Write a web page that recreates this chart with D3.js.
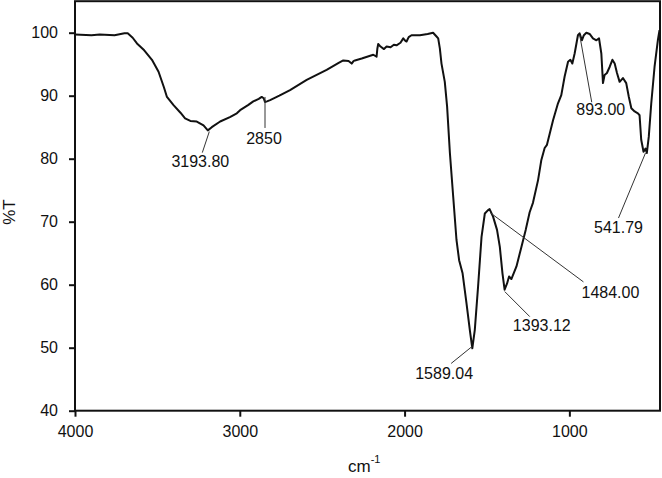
<!DOCTYPE html>
<html>
<head>
<meta charset="utf-8">
<script src="https://cdn.jsdelivr.net/npm/d3@7"></script>
<style>
  body { margin: 0; background: #fff; }
  svg { display: block; font-family: "Liberation Sans", Arial, sans-serif; }
</style>
</head>
<body>
<svg id="chart" width="662" height="478"></svg>
<script>

//// DATA

// Wavenumber (cm-1) from left to right
var wavenumber = [4000, 3900, 3850, 3760, 3700, 3680, 3650, 3624, 3580, 3533, 3493, 3460, 3442, 3402,
    3360, 3332, 3300, 3261, 3220, 3194, 3170, 3119, 3060, 3018, 2998, 2950, 2918, 2885, 2867, 2855,
    2847, 2835, 2816, 2760, 2695, 2594, 2473, 2400, 2372, 2340, 2321, 2310, 2301, 2260, 2190, 2170,
    2165, 2160, 2146, 2125, 2109, 2085, 2065, 2049, 2025, 2008, 1995, 1988, 1975, 1958, 1907, 1860,
    1827, 1806, 1796, 1786, 1776, 1756, 1742, 1725, 1705, 1685, 1669, 1648, 1624, 1604, 1589, 1574,
    1554, 1533, 1513, 1495, 1484, 1463, 1439, 1422, 1406, 1393, 1378, 1366, 1352, 1321, 1291, 1265,
    1241, 1221, 1190, 1170, 1150, 1136, 1119, 1099, 1069, 1049, 1029, 1008, 994, 982, 968, 948, 938,
    924, 912, 897, 877, 857, 836, 820, 806, 796, 786, 772, 755, 739, 725, 711, 695, 675, 655, 639,
    624, 604, 584, 574, 564, 550, 538, 530, 518, 503, 483, 463, 453];

// Transmittance (%T) for each wavenumber above
var transmittance = [99.7, 99.6, 99.7, 99.6, 99.9, 99.9, 99.2, 98.3, 97.2, 95.7, 93.8, 91.3, 89.8, 88.5,
    87.3, 86.4, 86.0, 85.9, 85.3, 84.5, 85.0, 85.9, 86.6, 87.2, 87.7, 88.5, 89.1, 89.5, 89.8, 89.6,
    89.0, 89.1, 89.3, 90.0, 90.9, 92.5, 94.1, 95.2, 95.6, 95.5, 95.1, 95.5, 95.6, 95.9, 96.5, 96.2,
    97.5, 98.2, 97.8, 97.4, 97.8, 97.7, 98.1, 98.0, 98.4, 99.1, 98.7, 98.6, 99.3, 99.6, 99.6, 99.8,
    100.0, 99.4, 99.1, 97.5, 95.1, 92.2, 88.3, 80.9, 74.0, 67.1, 63.9, 61.8, 57.0, 52.8, 49.9, 52.8,
    59.7, 67.6, 71.3, 71.8, 72.0, 70.8, 68.7, 66.0, 61.8, 59.2, 60.2, 61.3, 60.9, 62.9, 66.0, 68.7,
    71.5, 73.0, 76.6, 79.8, 81.7, 82.2, 84.0, 86.1, 88.8, 90.1, 93.0, 95.4, 95.7, 95.1, 96.7, 99.6, 99.9,
    98.8, 99.6, 100.0, 99.8, 99.1, 98.8, 99.1, 96.7, 92.0, 93.3, 93.6, 94.6, 95.7, 95.1, 93.6, 92.2, 92.8, 92.0, 89.8,
    88.0, 87.5, 87.2, 86.9, 83.0, 81.1, 81.6, 80.9, 83.5, 88.8, 94.6, 98.8, 100.4];

// Axis ticks
var xTicks = [4000, 3000, 2000, 1000];
var yTicks = [40, 50, 60, 70, 80, 90, 100];

// Peak labels and where their leader lines touch the curve
var peakLabels = ["3193.80", "2850", "893.00", "541.79", "1484.00", "1393.12", "1589.04"];
var peakWn = [3185, 2847, 937, 538, 1479, 1392, 1590];
var peakT = [84.3, 89.8, 99.6, 80.9, 71.4, 58.9, 50.2];


//// LAYOUT

var svg = d3.select("#chart");
var plotLeft = 75, plotRight = 660, plotTop = 1.2, plotBottom = 410.7;

// Pixel offsets of leader line end and label (centre, baseline) from the peak
var labelOffsets = [
    {lx: -7, ly: 21, tx: -9, ty: 35},
    {lx: 0, ly: 31, tx: -1, ty: 47},
    {lx: 12, ly: 67, tx: 21, ty: 80},
    {lx: -27, ly: 65, tx: -27, ty: 80},
    {lx: 93, ly: 69, tx: 120, ty: 85},
    {lx: 25, ly: 25, tx: 37, ty: 39},
    {lx: -21, ly: 17, tx: -28, ty: 33}
];

var x = d3.scaleLinear().domain([4000, 450]).range([plotLeft, plotRight]);
var y = d3.scaleLinear().domain([40, 105]).range([plotBottom, plotTop]);


//// AXES

var yAxis = svg.append("g")
    .attr("transform", "translate(" + plotLeft + ",0)")
    .call(d3.axisLeft(y).tickValues(yTicks).tickFormat(d3.format("d")).tickSize(6).tickPadding(11));

var xAxis = svg.append("g")
    .attr("transform", "translate(0," + plotBottom + ")")
    .call(d3.axisBottom(x).tickValues(xTicks).tickFormat(d3.format("d")).tickSize(6).tickPadding(9));

[xAxis, yAxis].forEach(function(g){
    g.select(".domain").remove();
    g.selectAll("line").attr("stroke", "#111").attr("stroke-width", 2);
    g.selectAll("text").attr("fill", "#111").style("font-size", "16px").style("font-family", "Liberation Sans, Arial, sans-serif");
});

// Frame round the plot
svg.append("rect")
    .attr("x", plotLeft).attr("y", plotTop)
    .attr("width", plotRight - plotLeft).attr("height", plotBottom - plotTop)
    .attr("fill", "none").attr("stroke", "#111").attr("stroke-width", 2);

// Axis titles
svg.append("text")
    .attr("transform", "translate(15,212) rotate(-90)")
    .attr("text-anchor", "middle")
    .style("font-size", "17px").attr("fill", "#111")
    .text("%T");

var xTitle = svg.append("text")
    .attr("x", 348).attr("y", 472)
    .style("font-size", "17px").attr("fill", "#111");
xTitle.append("tspan").text("cm");
xTitle.append("tspan").attr("dy", -9).style("font-size", "11px").text("-1");


//// SPECTRUM

var line = d3.line()
    .x(function(d, i){ return x(wavenumber[i]); })
    .y(function(d, i){ return y(transmittance[i]); });

svg.append("path")
    .datum(wavenumber)
    .attr("d", line)
    .attr("fill", "none")
    .attr("stroke", "#111")
    .attr("stroke-width", 2)
    .attr("stroke-linejoin", "round");


//// PEAK LABELS

var peaks = svg.append("g").selectAll("g")
    .data(peakLabels)
    .enter().append("g");

peaks.append("line")
    .attr("x1", function(d, i){ return x(peakWn[i]); })
    .attr("y1", function(d, i){ return y(peakT[i]); })
    .attr("x2", function(d, i){ return x(peakWn[i]) + labelOffsets[i].lx; })
    .attr("y2", function(d, i){ return y(peakT[i]) + labelOffsets[i].ly; })
    .attr("stroke", "#333").attr("stroke-width", 1);

peaks.append("text")
    .attr("x", function(d, i){ return x(peakWn[i]) + labelOffsets[i].tx; })
    .attr("y", function(d, i){ return y(peakT[i]) + labelOffsets[i].ty; })
    .attr("text-anchor", "middle")
    .style("font-size", "16px").attr("fill", "#111")
    .text(function(d){ return d; });

</script>
</body>
</html>
